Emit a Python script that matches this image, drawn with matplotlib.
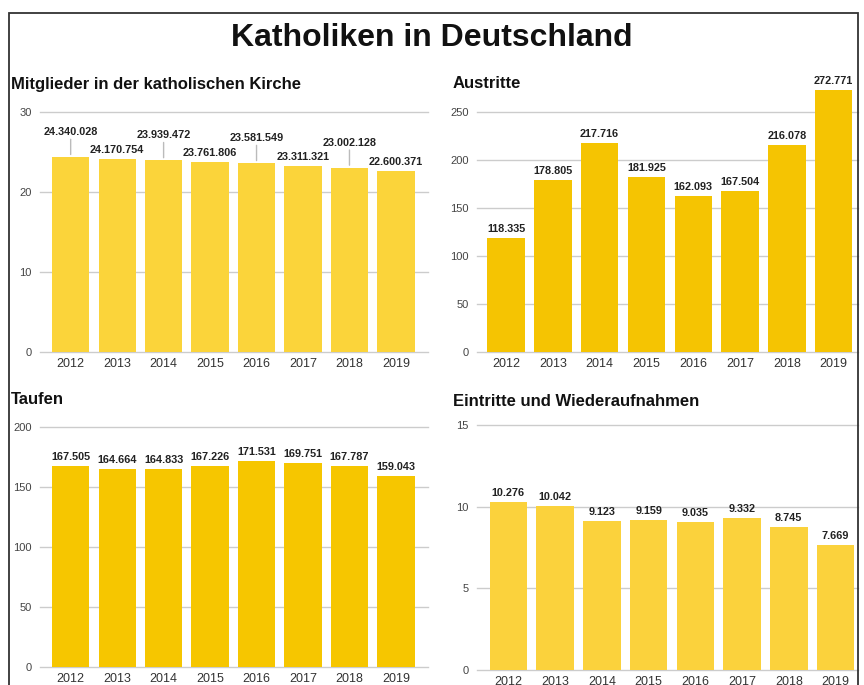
import matplotlib
matplotlib.use("Agg")
from matplotlib import pyplot as plt
from matplotlib.patches import Rectangle
import numpy as np

plt.rcParams['font.family'] = ['Liberation Sans', 'DejaVu Sans']

years = ["2012", "2013", "2014", "2015", "2016", "2017", "2018", "2019"]

# Mitglieder (in Mio.)
mitglieder = [24.340028, 24.170754, 23.939472, 23.761806, 23.581549, 23.311321, 23.002128, 22.600371]
mitglieder_lbl = ["24.340.028", "24.170.754", "23.939.472", "23.761.806",
                  "23.581.549", "23.311.321", "23.002.128", "22.600.371"]

# Austritte (in Tsd.)
austritte = [118.335, 178.805, 217.716, 181.925, 162.093, 167.504, 216.078, 272.771]
austritte_lbl = ["118.335", "178.805", "217.716", "181.925", "162.093", "167.504", "216.078", "272.771"]

# Taufen (in Tsd.)
taufen = [167.505, 164.664, 164.833, 167.226, 171.531, 169.751, 167.787, 159.043]
taufen_lbl = ["167.505", "164.664", "164.833", "167.226", "171.531", "169.751", "167.787", "159.043"]

# Eintritte und Wiederaufnahmen (in Tsd.)
eintritte = [10.276, 10.042, 9.123, 9.159, 9.035, 9.332, 8.745, 7.669]
eintritte_lbl = ["10.276", "10.042", "9.123", "9.159", "9.035", "9.332", "8.745", "7.669"]

W, H = 864, 685
fig = plt.figure(figsize=(W / 100, H / 100), dpi=100)

# frame around the whole graphic
fig.patches.append(Rectangle((9 / W, -0.05), 849 / W, 0.05 + (H - 13) / H,
                             transform=fig.transFigure, fill=False,
                             edgecolor="#333333", linewidth=1.3))

fig.text(0.5, 1 - 38 / H, "Katholiken in Deutschland", ha="center", va="center",
         fontsize=23, fontweight="bold", color="#111111")

lbl_font = dict(family=['Liberation Sans Narrow', 'Liberation Sans'], fontsize=7.8,
                fontweight="bold", color="#222222")


def panel(rect, values, labels, color, ylim, yticks, title, title_xy, xlim, stagger=False):
    l, t, r, b = rect
    ax = fig.add_axes([l / W, 1 - b / H, (r - l) / W, (b - t) / H])
    x = np.arange(len(values))
    ax.bar(x, values, width=0.8, color=color, zorder=2)
    ax.set_xlim(*xlim)
    ax.set_ylim(*ylim)
    ax.set_yticks(yticks)
    ax.set_xticks(x)
    ax.set_xticklabels(years)
    ax.tick_params(axis="y", length=0, pad=6, labelsize=8, labelcolor="#444444")
    ax.tick_params(axis="x", length=0, pad=4, labelsize=9, labelcolor="#333333")
    for s in ax.spines.values():
        s.set_visible(False)
    for yt in yticks:
        ax.axhline(yt, color="#cccccc", linewidth=1, zorder=1, clip_on=False)
    for i, (v, s) in enumerate(zip(values, labels)):
        if stagger and i % 2 == 0:
            ax.annotate("", xy=(i, v), xytext=(0, 18), textcoords="offset pixels",
                        arrowprops=dict(arrowstyle="-", color="#bbbbbb", lw=1,
                                        shrinkA=0, shrinkB=2))
            ax.annotate(s, xy=(i, v), xytext=(0, 25), textcoords="offset pixels",
                        ha="center", va="center", annotation_clip=False, **lbl_font)
        else:
            ax.annotate(s, xy=(i, v), xytext=(0, 9), textcoords="offset pixels",
                        ha="center", va="center", annotation_clip=False, **lbl_font)
    fig.text(title_xy[0] / W, 1 - title_xy[1] / H, title, ha="left", va="center",
             fontsize=12, fontweight="bold", color="#111111")
    return ax


panel((40, 112, 428, 352), mitglieder, mitglieder_lbl, "#FBD43A", (0, 30), [0, 10, 20, 30],
      "Mitglieder in der katholischen Kirche", (11, 84), (-0.66, 7.69), stagger=True)
panel((477, 80, 858, 352), austritte, austritte_lbl, "#F5C402", (0, 272 / 0.96),
      [0, 50, 100, 150, 200, 250], "Austritte", (453, 83), (-0.62, 7.52))
panel((40, 427, 428, 667), taufen, taufen_lbl, "#F6C600", (0, 200), [0, 50, 100, 150, 200],
      "Taufen", (11, 400), (-0.66, 7.69))
panel((477, 425, 858, 670), eintritte, eintritte_lbl, "#FBD23C", (0, 15), [0, 5, 10, 15],
      "Eintritte und Wiederaufnahmen", (453, 401), (-0.67, 7.48))

fig.savefig("out.png", dpi=100)
